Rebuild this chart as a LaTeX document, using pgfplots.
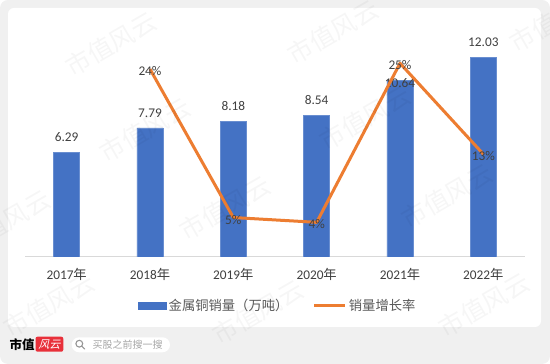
\documentclass[border=0pt]{standalone}
\usepackage{pgfplots}
\usepackage{pgfplotstable}
\pgfplotsset{compat=1.18}
\usepackage{fontspec}
\setmainfont{Carlito}
\newfontfamily\cjk{Noto Sans CJK SC}
\newfontfamily\cjkslant[FakeSlant=0.25]{Noto Sans CJK SC}
\definecolor{barblue}{HTML}{4472C4}
\definecolor{lineorange}{HTML}{ED7D31}
\definecolor{lab}{HTML}{404040}
\definecolor{legtext}{HTML}{595959}
\definecolor{framegray}{HTML}{F0F0F0}
\definecolor{axisgray}{HTML}{D9D9D9}
\definecolor{logored}{HTML}{E8303A}
\definecolor{searchgray}{HTML}{A6A6A6}

\pgfplotstableread{
x y off lab
0 6.29 10.8 6.29
1 7.79 10.8 7.79
2 8.18 10.8 8.18
3 8.54 10.8 8.54
4 10.64 -6.5 10.64
5 12.03 10.8 12.03
}\bardata

\pgfplotstableread{
x y pct
1 0.2385 24
2 0.0501 5
3 0.0440 4
4 0.2459 25
5 0.1306 13
}\linedata

\newcommand{\wm}[2]{\node[rotate=30, text=black, opacity=0.035, font=\cjk\fontsize{25}{25}\selectfont] at (#1pt,{(364-#2)*1pt}) {市值风云};}

\begin{document}
\begin{tikzpicture}
% background frame
\fill[framegray, rounded corners=8pt] (0pt,0pt) rectangle (550pt,364pt);
\fill[white, rounded corners=6pt] (8pt,37pt) rectangle (541pt,356pt);

\begin{axis}[
  at={(25pt,107pt)}, anchor=south west,
  scale only axis, width=500pt, height=232pt,
  xmin=-0.5, xmax=5.5, ymin=0, ymax=14,
  hide y axis,
  axis x line*=bottom,
  x axis line style={-, draw=axisgray, line width=1pt},
  xtick={0,1,2,3,4,5},
  xticklabels={2017{\cjk 年},2018{\cjk 年},2019{\cjk 年},2020{\cjk 年},2021{\cjk 年},2022{\cjk 年}},
  major tick length=0pt,
  x tick label style={anchor=base, yshift=-22.2pt, font=\fontsize{13.3}{16}\selectfont, text=lab},
  legend style={at={(0.505,-0.211)}, anchor=center, draw=none, fill=none,
    inner sep=0pt, legend columns=2,
    font=\cjk\fontsize{13.3}{16}\selectfont, text=legtext,
    /tikz/every even column/.append style={column sep=22.5pt}},
  legend cell align=left,
]
\addplot[ybar, bar width=26pt, fill=barblue, draw=barblue!80!white, line width=0.6pt,
  nodes near coords, point meta=explicit symbolic,
  visualization depends on={\thisrow{off}\as\off},
  nodes near coords style={anchor=base, yshift=\off pt, text=lab, font=\fontsize{13.3}{16}\selectfont},
  legend image code/.code={\fill[barblue] (0pt,-3.7pt) rectangle (28.5pt,3.7pt);}
  ] table[x=x, y=y, meta=lab] {\bardata};
\addlegendentry{金属铜销量（万吨）}
\addlegendimage{legend image code/.code={\draw[lineorange, line width=3pt] (0pt,0pt) -- (31pt,0pt);}}
\addlegendentry{销量增长率}
\end{axis}

\begin{axis}[
  at={(25pt,107pt)}, anchor=south west,
  scale only axis, width=500pt, height=232pt,
  xmin=-0.5, xmax=5.5, ymin=0, ymax=0.2945,
  hide axis, clip=false,
  /pgf/number format/assume math mode=true,
]
\addplot[lineorange, line width=3pt, line join=round, mark=none] table[x=x, y=y] {\linedata};
\addplot[draw=none, mark=none,
  nodes near coords={\pgfmathprintnumber[fixed,precision=0,assume math mode=true]{\pgfplotspointmeta}\%},
  point meta=\thisrow{pct},
  nodes near coords style={anchor=center, yshift=-2pt, text=lab, font=\fontsize{13.3}{16}\selectfont},
  ] table[x=x, y=y] {\linedata};
\end{axis}

% watermark
\wm{111}{44}
\wm{333}{32}
\wm{555}{20}
\wm{145}{130}
\wm{365}{118}
\wm{5}{222}
\wm{225}{208}
\wm{447}{196}
\wm{49}{305}
\wm{258}{312}
\wm{484}{305}

% bottom bar
\node[anchor=west, inner sep=0pt, font=\cjk\bfseries\fontsize{12.5}{13}\selectfont, text=black] at (9.5pt,19.5pt) {市值};
\fill[logored, rounded corners=2pt] (35.5pt,12.3pt) rectangle (63.3pt,27.3pt);
\node[inner sep=0pt, font=\cjkslant\fontsize{11}{11}\selectfont, text=white] at (49.4pt,19.8pt) {风云};
\fill[white, rounded corners=7.5pt] (71.7pt,11.7pt) rectangle (170pt,26.7pt);
\draw[searchgray!90!black, line width=1.1pt] (79.3pt,20.3pt) circle (3.4pt);
\draw[searchgray!90!black, line width=1.2pt, line cap=round] (81.8pt,17.8pt) -- (84.6pt,15pt);
\node[anchor=west, inner sep=0pt, font=\cjk\fontsize{10}{10}\selectfont, text=searchgray] at (92.5pt,19.2pt) {买股之前搜一搜};

\pgfresetboundingbox
\useasboundingbox (0pt,0pt) rectangle (550pt,364pt);
\end{tikzpicture}
\end{document}
